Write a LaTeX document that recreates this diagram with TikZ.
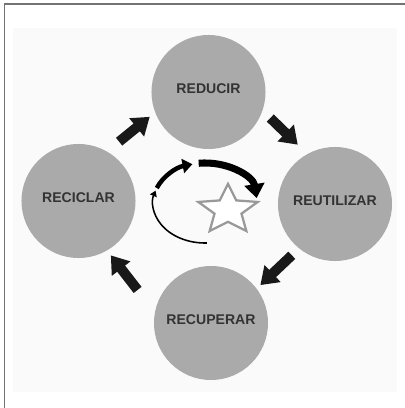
\documentclass[tikz,border=0pt]{standalone}
\usepackage{fontspec}
\setmainfont{Liberation Sans}
\usetikzlibrary{arrows.meta,shapes.geometric}
\definecolor{discgray}{HTML}{AAAAAA}
\definecolor{labelgray}{HTML}{333333}

\begin{document}
\begin{tikzpicture}[x=0.025cm,y=0.025cm,
  disc/.style={circle,fill=discgray,minimum size=2.85cm,inner sep=0pt,
    text depth=0.18cm,font=\bfseries\fontsize{10}{12}\selectfont,text=labelgray},
  flow/.style={line width=0.25cm,color=black!90,
    -{Triangle[width=0.56cm,length=0.42cm]}}]
\useasboundingbox (0,0) rectangle (405,408);
\fill[black!2] (13,16) rectangle (397,380);
\draw[line width=1.4pt,black!55] (4.5,0) -- (4.5,404) -- (405,404);

% the four stages
\node[disc] (reducir) at (208.5,316) {REDUCIR};
\node[disc] (reutilizar) at (335,204) {REUTILIZAR};
\node[disc] (recuperar) at (211,85) {RECUPERAR};
\node[disc] (reciclar) at (78.5,207) {RECICLAR};

\draw[flow,shorten <=0.385cm,shorten >=0.17cm] (reciclar.60) -- (reducir.201);
\draw[flow,shorten <=0.265cm,shorten >=0.33cm] (reducir.-19) -- (reutilizar.119);
\draw[flow,shorten <=0.245cm,shorten >=0.125cm] (reutilizar.231) -- (recuperar.37);
\draw[flow,shorten <=0.70cm,shorten >=0.15cm] (recuperar.169) -- (reciclar.300);

% cycle icon in the middle
\node[star,star points=5,star point ratio=2.2,minimum size=1.3cm,inner sep=0pt,
  draw=black!40,line width=1.6pt,fill=white,xscale=1.2] (star) at (228,198) {};
\coordinate (hub) at (205,205);
\draw[line width=1.1pt,-{Triangle[width=5pt,length=4pt]}] (hub) ++(-88:1.3cm and 1cm)
  arc[start angle=-88,end angle=-198,x radius=1.3cm,y radius=1cm];
\draw[line width=3.2pt,-{Triangle[width=10pt,length=7pt]}] (hub) ++(158:1.3cm and 1cm)
  arc[start angle=158,end angle=104,x radius=1.3cm,y radius=1cm];
\draw[line width=5pt,-{Triangle[width=14pt,length=10pt]}] (hub) ++(97:1.3cm and 1cm)
  arc[start angle=97,end angle=7,x radius=1.3cm,y radius=1cm];
\end{tikzpicture}
\end{document}
